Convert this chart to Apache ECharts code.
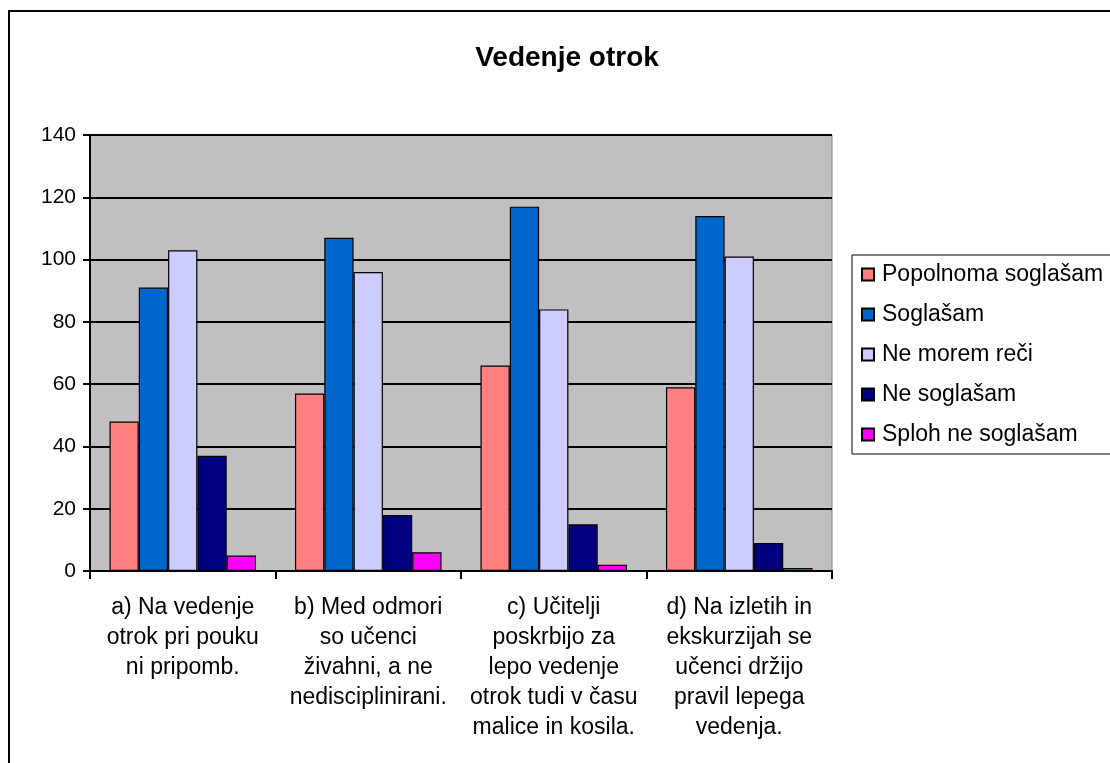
<!DOCTYPE html>
<html>
<head>
<meta charset="utf-8">
<script src="https://cdn.jsdelivr.net/npm/echarts@6/dist/echarts.min.js"></script>
<style>
  html, body { margin: 0; padding: 0; background: #fff; }
  #chart { width: 1110px; height: 763px; }
</style>
</head>
<body>
<div id="chart"></div>
<script>
// podatki
const categories = [
  'a) Na vedenje\notrok pri pouku\nni pripomb.',
  'b) Med odmori\nso učenci\nživahni, a ne\nnedisciplinirani.',
  'c) Učitelji\nposkrbijo za\nlepo vedenje\notrok tudi v času\nmalice in kosila.',
  'd) Na izletih in\nekskurzijah se\nučenci držijo\npravil lepega\nvedenja.'
]
const seriesNames = ['Popolnoma soglašam', 'Soglašam', 'Ne morem reči', 'Ne soglašam', 'Sploh ne soglašam']
const popolnoma = [48, 57, 66, 59]
const soglasam = [91, 107, 117, 114]
const neMorem = [103, 96, 84, 101]
const neSoglasam = [37, 18, 15, 9]
const sploh = [5, 6, 2, 1]
const colors = ['#ff8080', '#0066cc', '#ccccff', '#000080', '#ff00ff']

const chart = echarts.init(document.getElementById('chart'))
const font = '"Liberation Sans", Arial, sans-serif'

const option = {
  backgroundColor: '#fff',
  animation: false,
  textStyle: { fontFamily: font, color: '#000' },
  title: {
    text: 'Vedenje otrok',
    left: 562,
    textAlign: 'center',
    top: 39,
    textStyle: { fontFamily: font, fontSize: 28, fontWeight: 'bold', color: '#000' }
  },
  graphic: [{
    type: 'rect',
    shape: { x: 9, y: 11, width: 1200, height: 1000 },
    style: { fill: 'none', stroke: '#000', lineWidth: 2 },
    z: 100
  }],
  legend: {
    orient: 'vertical',
    left: 852,
    top: 255,
    data: seriesNames,
    icon: 'rect',
    itemWidth: 12,
    itemHeight: 12,
    itemGap: 17,
    padding: [8, 10, 8, 9],
    borderColor: '#000',
    borderWidth: 1,
    backgroundColor: '#fff',
    textStyle: { fontFamily: font, fontSize: 23, color: '#000', padding: [0, 0, 0, 3] }
  },
  grid: {
    left: 90,
    top: 135,
    width: 742,
    height: 436,
    show: true,
    backgroundColor: '#c0c0c0',
    borderColor: '#808080',
    borderWidth: 1
  },
  xAxis: {
    type: 'category',
    data: categories,
    axisLine: { lineStyle: { color: '#000', width: 2 } },
    axisTick: { show: true, length: 8, lineStyle: { color: '#000', width: 2 } },
    axisLabel: {
      interval: 0,
      margin: 22,
      fontFamily: font,
      fontSize: 23,
      lineHeight: 30,
      color: '#000',
      align: 'center'
    }
  },
  yAxis: {
    type: 'value',
    min: 0,
    max: 140,
    interval: 20,
    axisLine: { show: true, lineStyle: { color: '#000', width: 2 } },
    axisTick: { show: true, length: 7, lineStyle: { color: '#000', width: 2 } },
    splitLine: { lineStyle: { color: '#000', width: 2 } },
    axisLabel: { fontFamily: font, fontSize: 21, color: '#000', margin: 14 }
  },
  series: [popolnoma, soglasam, neMorem, neSoglasam, sploh].map((d, i) => ({
    name: seriesNames[i],
    type: 'bar',
    data: d,
    barGap: '0%',
    barCategoryGap: '21%',
    z: 5,
    itemStyle: { color: colors[i], borderColor: '#000', borderWidth: 1.2 }
  }))
}

chart.setOption(option)
</script>
</body>
</html>
